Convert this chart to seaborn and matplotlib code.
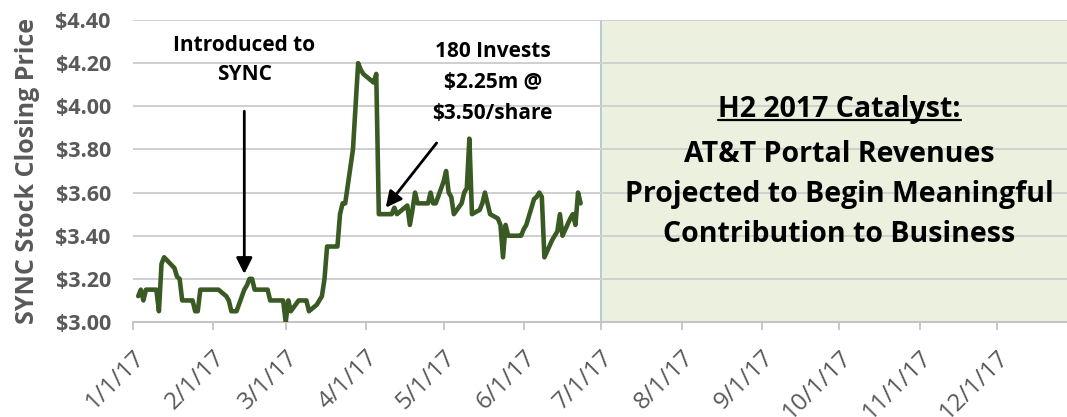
import matplotlib
matplotlib.use("Agg")
import matplotlib.pyplot as plt
import matplotlib.ticker as mticker
import seaborn as sns
import pandas as pd

dates = ["2017-01-03","2017-01-04","2017-01-05","2017-01-06","2017-01-09","2017-01-10","2017-01-11",
         "2017-01-12","2017-01-13","2017-01-17","2017-01-18","2017-01-19","2017-01-20","2017-01-23",
         "2017-01-24","2017-01-25","2017-01-26","2017-01-27","2017-01-30","2017-01-31","2017-02-01",
         "2017-02-02","2017-02-03","2017-02-06","2017-02-07","2017-02-08","2017-02-09","2017-02-10",
         "2017-02-13","2017-02-14","2017-02-15","2017-02-16","2017-02-17","2017-02-21","2017-02-22",
         "2017-02-23","2017-02-24","2017-02-27","2017-02-28","2017-03-01","2017-03-02","2017-03-03",
         "2017-03-06","2017-03-07","2017-03-08","2017-03-09","2017-03-10","2017-03-13","2017-03-14",
         "2017-03-15","2017-03-16","2017-03-17","2017-03-20","2017-03-21","2017-03-22","2017-03-23",
         "2017-03-24","2017-03-27","2017-03-28","2017-03-29","2017-03-30","2017-03-31","2017-04-03",
         "2017-04-04","2017-04-05","2017-04-06","2017-04-07","2017-04-10","2017-04-11","2017-04-12",
         "2017-04-13","2017-04-17","2017-04-18","2017-04-19","2017-04-20","2017-04-21","2017-04-24",
         "2017-04-25","2017-04-26","2017-04-27","2017-04-28","2017-05-01","2017-05-02","2017-05-03",
         "2017-05-04","2017-05-05","2017-05-08","2017-05-09","2017-05-10","2017-05-11","2017-05-12",
         "2017-05-15","2017-05-16","2017-05-17","2017-05-18","2017-05-19","2017-05-22","2017-05-23",
         "2017-05-24","2017-05-25","2017-05-26","2017-05-30","2017-05-31","2017-06-01","2017-06-02",
         "2017-06-05","2017-06-06","2017-06-07","2017-06-08","2017-06-09","2017-06-12","2017-06-13",
         "2017-06-14","2017-06-15","2017-06-16","2017-06-19","2017-06-20","2017-06-21","2017-06-22",
         "2017-06-23"]
prices = [3.12,3.15,3.10,3.15,3.15,3.15,3.05,
          3.27,3.30,3.25,3.21,3.20,3.10,3.10,
          3.10,3.05,3.05,3.15,3.15,3.15,3.15,
          3.15,3.15,3.12,3.10,3.05,3.05,3.05,
          3.15,3.17,3.20,3.20,3.15,3.15,3.15,
          3.10,3.10,3.10,3.10,3.00,3.10,3.05,
          3.10,3.10,3.10,3.10,3.05,3.08,3.10,
          3.12,3.20,3.35,3.35,3.35,3.50,3.55,
          3.55,3.80,4.00,4.20,4.17,4.15,4.12,
          4.11,4.15,3.50,3.50,3.50,3.50,3.53,
          3.50,3.54,3.45,3.52,3.60,3.55,3.55,
          3.55,3.60,3.55,3.55,3.65,3.70,3.60,
          3.58,3.50,3.55,3.60,3.62,3.85,3.50,
          3.52,3.55,3.60,3.55,3.50,3.48,3.45,
          3.30,3.45,3.40,3.40,3.40,3.43,3.45,
          3.57,3.58,3.60,3.58,3.30,3.38,3.40,
          3.42,3.50,3.40,3.48,3.50,3.45,3.60,
          3.55]

yticks = [3.00, 3.20, 3.40, 3.60, 3.80, 4.00, 4.20, 4.40]
xtick_dates = ["2017-01-01","2017-02-01","2017-03-01","2017-04-01","2017-05-01","2017-06-01",
               "2017-07-01","2017-08-01","2017-09-01","2017-10-01","2017-11-01","2017-12-01"]
xtick_labels = ["1/1/17","2/1/17","3/1/17","4/1/17","5/1/17","6/1/17",
                "7/1/17","8/1/17","9/1/17","10/1/17","11/1/17","12/1/17"]
ylabel = "SYNC Stock Closing Price"
note1 = "Introduced to\nSYNC"
note2 = "180 Invests\n$2.25m @\n$3.50/share"
box_title = "H2 2017 Catalyst:"
box_body = "AT&T Portal Revenues\nProjected to Begin Meaningful\nContribution to Business"

sns.set_style("white")
plt.rcParams['font.family'] = ['Open Sans', 'DejaVu Sans']

df = pd.DataFrame({"date": pd.to_datetime(dates), "price": prices})

fig = plt.figure(figsize=(10.67, 4.17), dpi=100)
ax = fig.add_axes([0.1247, 0.2278, 0.8753, 0.7242])

xstart = pd.Timestamp("2017-01-01")
xend = pd.Timestamp("2017-12-28")

sns.lineplot(data=df, x="date", y="price", ax=ax, color="#3A5A24", linewidth=3.3, zorder=3)

# green catalyst box
ax.axvspan(pd.Timestamp("2017-07-01"), xend + pd.Timedelta(days=5), ymin=0, ymax=1,
           facecolor="#EBF1DE", edgecolor="#B8C8D8", linewidth=1.4, zorder=0.2)

# horizontal gridlines as thin filled bands at the tick values
band = 0.0045
for yv in yticks:
    ax.axhspan(yv - band, yv + band, facecolor="#D0D0D0", edgecolor="none",
               linewidth=0, zorder=1)

ax.set_xlim(xstart, xend)
ax.set_ylim(3.0, 4.4)
ax.set_yticks(yticks)
ax.grid(False)

ax.yaxis.set_major_formatter(mticker.FuncFormatter(lambda v, p: f"${v:.2f}"))
ax.set_xticks(pd.to_datetime(xtick_dates))
ax.set_xticklabels(xtick_labels, rotation=45, ha="right", rotation_mode="anchor",
                   fontsize=17.5, color="#595959")
for lab in ax.get_yticklabels():
    lab.set_fontweight("bold")
    lab.set_fontsize(15.5)
    lab.set_color("#595959")

ax.tick_params(axis="x", which="major", length=6, width=1.3, color="#C4C4C4", pad=11,
               direction="out", bottom=True)
ax.tick_params(axis="y", length=0, pad=16)

for s in ["top", "right", "left"]:
    ax.spines[s].set_visible(False)
ax.spines["bottom"].set_color("#C4C4C4")
ax.spines["bottom"].set_linewidth(1.5)
ax.spines["bottom"].set_zorder(2)

ax.set_xlabel("")
ax.set_ylabel(ylabel, fontsize=18, fontweight="bold", color="#595959", labelpad=11)

# annotations
ax.annotate("", xy=(pd.Timestamp("2017-02-13"), 3.21), xytext=(pd.Timestamp("2017-02-13"), 3.99),
            arrowprops=dict(arrowstyle="-|>", color="black", lw=2, mutation_scale=24), zorder=5)
ax.text(pd.Timestamp("2017-02-13"), 4.215, note1, ha="center", va="center", fontsize=15,
        fontweight="bold", color="black", linespacing=1.45)

ax.annotate("", xy=(pd.Timestamp("2017-04-08"), 3.52), xytext=(pd.Timestamp("2017-04-29"), 3.84),
            arrowprops=dict(arrowstyle="-|>", color="black", lw=2, mutation_scale=24), zorder=5)
ax.text(pd.Timestamp("2017-05-20"), 4.11, note2, ha="center", va="center", fontsize=15,
        fontweight="bold", color="black", linespacing=1.6)

# box text
cx = pd.Timestamp("2017-10-01")
t_title = ax.text(cx, 3.985, box_title, ha="center", va="center", fontsize=20.5,
                  fontweight="bold", color="black", zorder=4)
ax.text(cx, 3.59, box_body, ha="center", va="center", fontsize=20.5,
        fontweight="bold", color="black", linespacing=1.5, zorder=4)

fig.canvas.draw()
bb = t_title.get_window_extent().transformed(ax.transData.inverted())
ax.plot([bb.x0, bb.x1], [bb.y0 + 0.02, bb.y0 + 0.02], color="black", lw=1.6, zorder=4)

fig.savefig("out.png", dpi=100)
